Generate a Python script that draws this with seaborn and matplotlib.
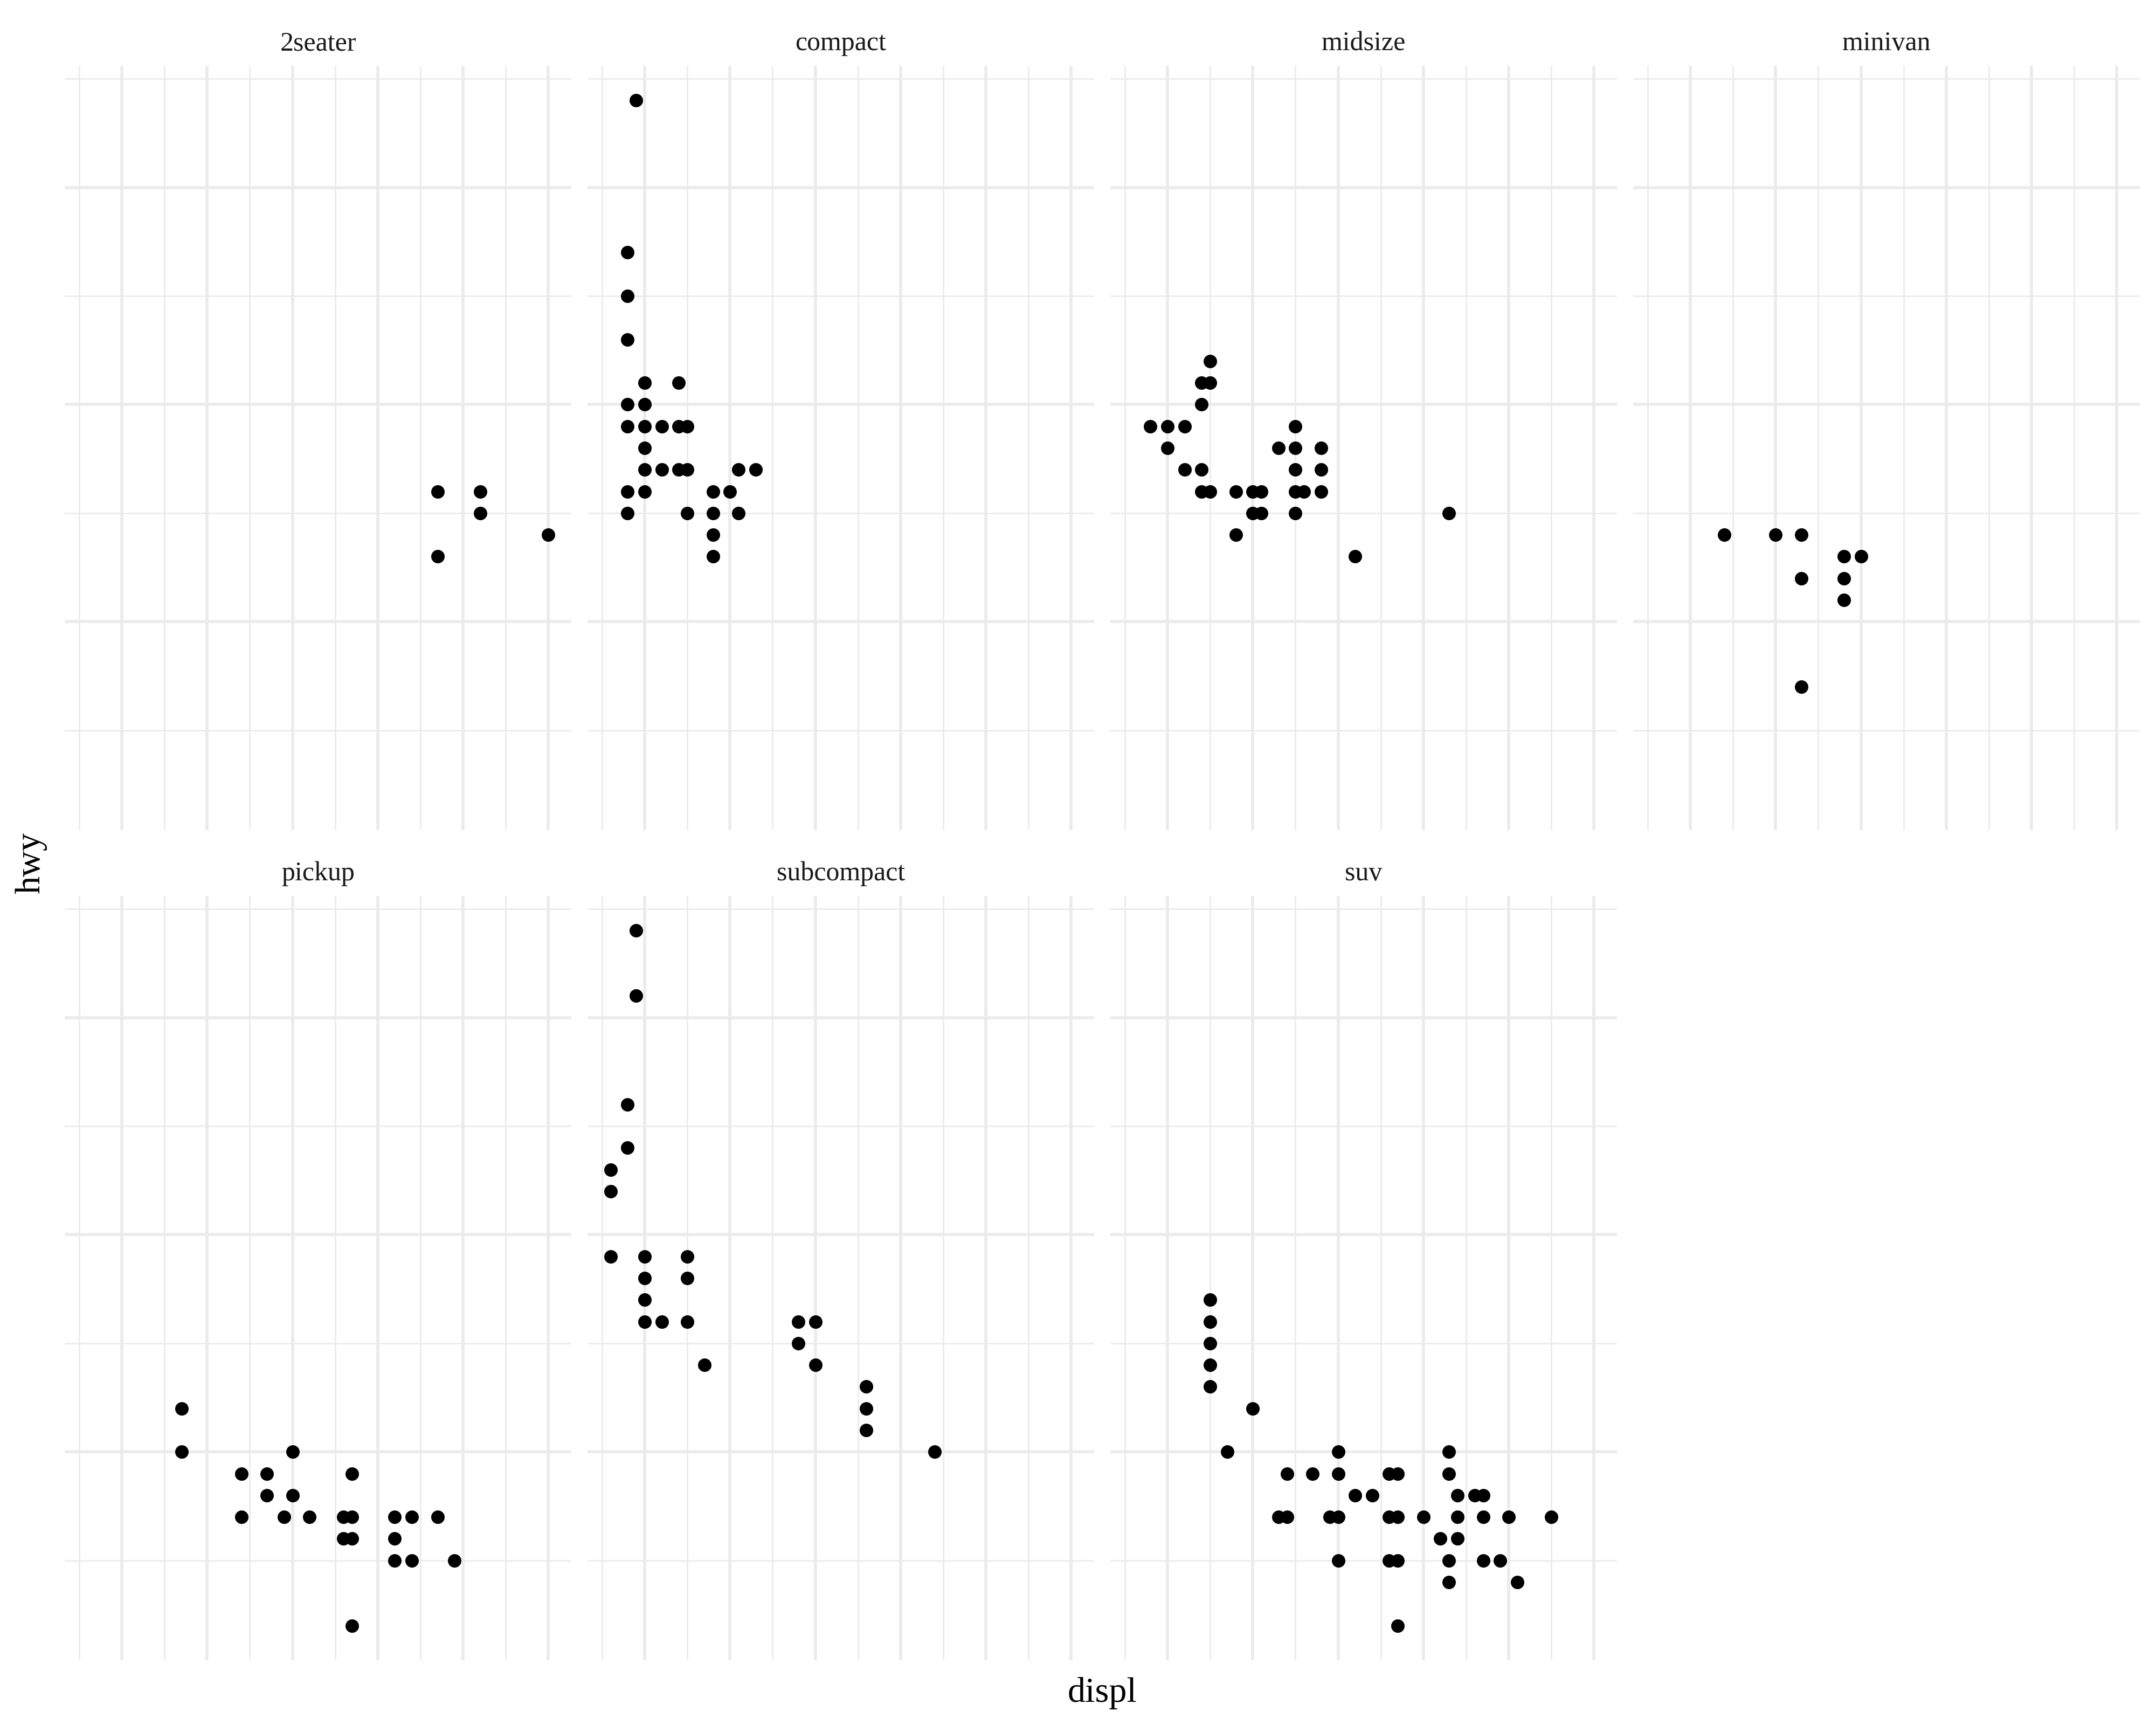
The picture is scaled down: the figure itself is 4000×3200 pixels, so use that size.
import numpy as np
import pandas as pd
import matplotlib
matplotlib.use("Agg")
import matplotlib.pyplot as plt
import seaborn as sns

# ---------------- data ----------------
classes = ["2seater", "compact", "midsize", "minivan", "pickup", "subcompact", "suv"]

displ_2seater = [5.7, 5.7, 6.2, 6.2, 7.0]
hwy_2seater = [26, 23, 26, 25, 24]

displ_compact = [1.9, 1.8, 1.8, 1.8, 2.0, 2.4, 1.8, 2.0, 1.8, 2.0, 2.2, 2.4, 2.5, 2.0,
                 2.0, 2.2, 2.4, 2.5, 3.1, 3.3, 1.8, 2.0, 2.8, 3.0, 1.8, 2.5, 2.8, 3.1,
                 2.8, 2.8]
hwy_compact = [44, 37, 35, 33, 31, 31, 30, 30, 29, 29, 29, 29, 29, 28,
               27, 27, 27, 27, 27, 27, 26, 26, 26, 26, 25, 25, 25, 25,
               24, 23]

displ_midsize = [2.5, 2.4, 2.5, 2.4, 1.8, 2.0, 2.2, 3.5, 2.0, 3.3, 3.5, 3.8, 2.2, 2.4,
                 3.5, 3.8, 2.4, 2.5, 2.8, 3.0, 3.1, 3.5, 3.6, 3.8, 3.0, 3.1, 3.5, 5.3,
                 2.8, 4.2]
hwy_midsize = [32, 31, 31, 30, 29, 29, 29, 29, 28, 28, 28, 28, 27, 27,
               27, 27, 26, 26, 26, 26, 26, 26, 26, 26, 25, 25, 25, 25,
               24, 23]

displ_minivan = [2.4, 3.0, 3.3, 3.3, 3.8, 4.0, 3.8, 3.8, 3.3]
hwy_minivan = [24, 24, 24, 22, 23, 23, 22, 21, 17]

displ_pickup = [2.7, 2.7, 4.0, 3.4, 3.7, 4.7, 3.7, 4.0, 3.4, 3.9, 4.2, 4.6, 4.7, 5.2,
                5.4, 5.7, 4.6, 4.7, 5.2, 5.2, 5.4, 5.9, 4.7]
hwy_pickup = [22, 20, 20, 19, 19, 19, 18, 18, 17, 17, 17, 17, 17, 17,
              17, 17, 16, 16, 16, 15, 15, 15, 12]

displ_subcompact = [1.9, 1.9, 1.8, 1.8, 1.6, 1.6, 1.6, 2.0, 2.5, 2.0, 2.5, 2.0, 2.0, 2.2,
                    2.5, 3.8, 4.0, 3.8, 2.7, 4.0, 4.6, 4.6, 4.6, 5.4]
hwy_subcompact = [44, 41, 36, 34, 33, 32, 29, 29, 29, 28, 28, 27, 26, 26,
                  26, 26, 26, 25, 24, 24, 23, 22, 21, 20]

displ_suv = [2.5, 2.5, 2.5, 2.5, 2.5, 3.0, 2.7, 4.0, 5.3, 3.4, 3.7, 4.0, 4.6, 4.7,
             5.3, 4.2, 4.4, 5.4, 5.6, 5.7, 3.3, 3.4, 3.9, 4.0, 4.6, 4.7, 5.0, 5.4,
             5.7, 6.0, 6.5, 5.2, 5.4, 4.0, 4.6, 4.7, 5.3, 5.7, 5.9, 5.3, 6.1, 4.7]
hwy_suv = [27, 26, 25, 24, 23, 22, 20, 20, 20, 19, 19, 19, 19, 19,
           19, 18, 18, 18, 18, 18, 17, 17, 17, 17, 17, 17, 17, 17,
           17, 17, 17, 16, 16, 15, 15, 15, 15, 15, 15, 14, 14, 12]

x_major = [2, 3, 4, 5, 6, 7]
x_minor = [1.5, 2.5, 3.5, 4.5, 5.5, 6.5]
y_major = [20, 30, 40]
y_minor = [15, 25, 35, 45]

series = {
    "2seater": (displ_2seater, hwy_2seater),
    "compact": (displ_compact, hwy_compact),
    "midsize": (displ_midsize, hwy_midsize),
    "minivan": (displ_minivan, hwy_minivan),
    "pickup": (displ_pickup, hwy_pickup),
    "subcompact": (displ_subcompact, hwy_subcompact),
    "suv": (displ_suv, hwy_suv),
}
frames = [pd.DataFrame({"displ": d, "hwy": h, "class": c}) for c, (d, h) in series.items()]
df = pd.concat(frames, ignore_index=True)

# ---------------- plot ----------------
sns.set_theme(style="white")
plt.rcParams["font.family"] = ["Liberation Serif", "DejaVu Serif"]

W, H, DPI = 4000, 3200, 300
g = sns.relplot(data=df, x="displ", y="hwy", col="class", col_order=classes,
                col_wrap=4, kind="scatter", color="black", s=36, linewidth=0,
                height=3, aspect=1, facet_kws=dict(sharex=True, sharey=True))
fig = g.figure
fig.set_size_inches(W / DPI, H / DPI)
fig.patch.set_facecolor("white")

lefts = [120, 1090, 2060, 3030]
tops = [122, 1662]
pw, ph = 940, 1418

xmin, xmax = 1.6, 7.0
ymin, ymax = 12, 44
xpad = (xmax - xmin) * 0.05
ypad = (ymax - ymin) * 0.05

for i, name in enumerate(classes):
    ax = g.axes_dict[name]
    r, c = divmod(i, 4)
    ax.set_position([lefts[c] / W, 1 - (tops[r] + ph) / H, pw / W, ph / H])
    ax.set_xlim(xmin - xpad, xmax + xpad)
    ax.set_ylim(ymin - ypad, ymax + ypad)
    ax.set_xticks(x_major)
    ax.set_xticks(x_minor, minor=True)
    ax.set_yticks(y_major)
    ax.set_yticks(y_minor, minor=True)
    ax.grid(which="major", color="#EBEBEB", linewidth=1.32)
    ax.grid(which="minor", color="#EBEBEB", linewidth=0.67)
    ax.set_axisbelow(True)
    ax.tick_params(which="both", length=0, labelbottom=False, labelleft=False)
    for sp in ax.spines.values():
        sp.set_visible(False)
    ax.set_xlabel("")
    ax.set_ylabel("")
    ax.set_facecolor("white")
    ax.set_title(name, fontsize=12.0, color="#1A1A1A", pad=6.96)

fig.text(2045 / W, 1 - 3157 / H, "displ", ha="center", va="baseline",
         fontsize=15.9, color="black")
fig.text(58 / W, 1 - 1601 / H, "hwy", ha="center", va="center", rotation=90,
         fontsize=15.9, color="black")

fig.savefig("out.png", dpi=DPI, facecolor="white")
